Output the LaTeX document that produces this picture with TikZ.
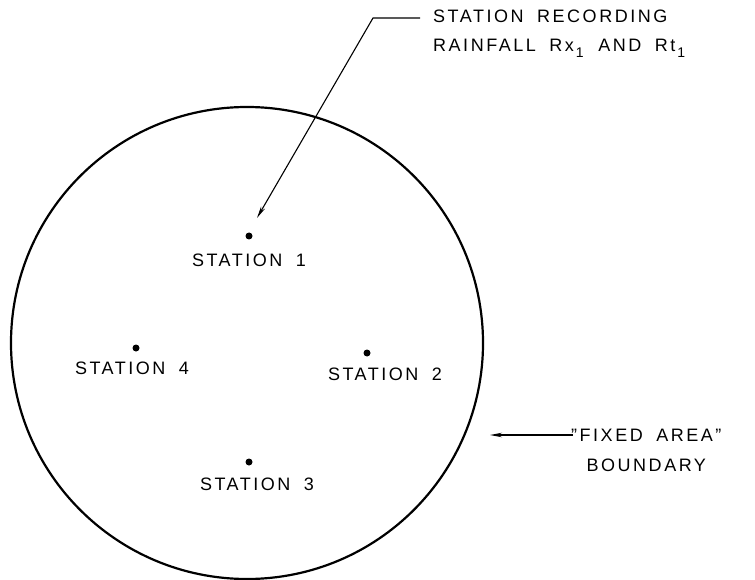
\documentclass[tikz,border=0pt]{standalone}
\usepackage{fontspec}
\setmainfont{Liberation Sans}[LetterSpace=14,WordSpace=1.8]
\usetikzlibrary{arrows.meta}
\newcommand{\lowone}{\hspace{2pt}\raisebox{-6pt}{\fontsize{14}{14}\selectfont 1}\hspace{1pt}}
\begin{document}
\begin{tikzpicture}[x=1pt,y=-1pt,
  lab/.style={font=\fontsize{18}{21}\selectfont, inner sep=0pt},
  dotmark/.style={circle, fill=black, inner sep=0pt, minimum size=7pt},
  lead/.style={line width=1.1pt, -{Stealth[length=12pt,width=4.5pt]}}]
\useasboundingbox (0,0) rectangle (755,580);
\node[draw, circle, line width=2.2pt, minimum size=472pt, inner sep=0pt] (area) at (247,343) {};
\node[dotmark] (s1) at (249,236) {};
\node[dotmark] (s2) at (367,353) {};
\node[dotmark] (s3) at (249,462) {};
\node[dotmark] (s4) at (136,348) {};
\node[lab] (l1) at (249,260) {STATION 1};
\node[lab] (l2) at (385,374) {STATION 2};
\node[lab] (l3) at (257,484) {STATION 3};
\node[lab] (l4) at (132,368) {STATION 4};
\node[lab, anchor=west, align=left] (rec) at (433,34) {STATION RECORDING\\[8pt]RAINFALL Rx\lowone{} AND Rt\lowone};
\node[lab, anchor=west, align=center] (fix) at (571,450) {"FIXED AREA"\\[9pt]BOUNDARY};
\coordinate (t1) at (257,218);
\coordinate (t2) at (490,435);
\draw[lead] (420,18) -- (373,18) -- (t1);
\draw[lead] (573,435) -- (t2);
\end{tikzpicture}
\end{document}
